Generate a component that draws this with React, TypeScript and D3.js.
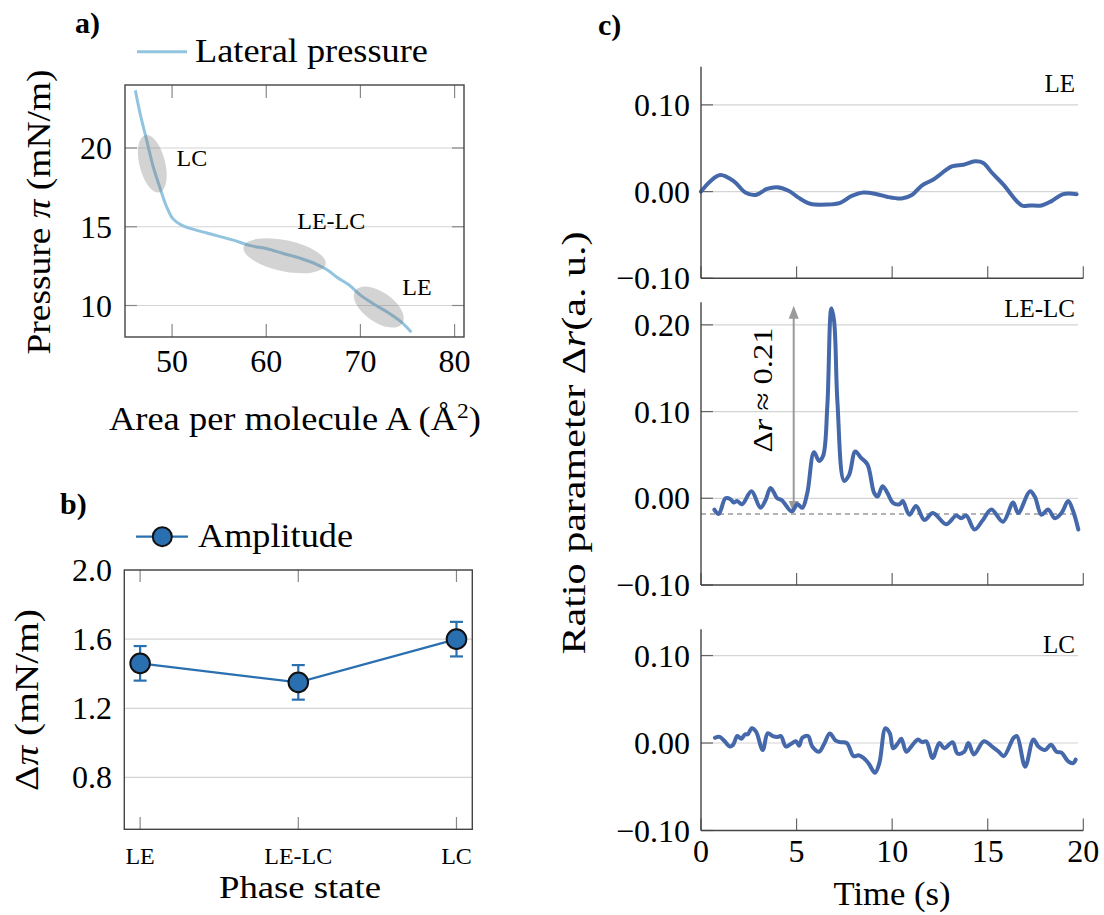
import React from "react";
import * as d3 from "d3";

// ---------- Panel a: isotherm ----------
const areaPerMolecule = [46.1, 46.6, 47.3, 48.0, 48.7, 49.4, 50.1, 51.0, 51.9, 53.7, 56.5, 58.3, 60.1, 61.8, 63.6, 65.4, 66.5, 67.5, 68.8, 70.0, 71.4, 72.8, 74.3, 75.4];
const lateralPressure = [23.66, 22.2, 20.5, 18.8, 17.5, 16.3, 15.5, 15.1, 14.9, 14.6, 14.15, 13.8, 13.6, 13.3, 13.0, 12.6, 12.25, 11.8, 11.3, 10.66, 10.1, 9.6, 8.97, 8.3];
const regionNames = ["LC", "LE-LC", "LE"];
const regionArea = [47.9, 61.95, 71.95];
const regionPressure = [19.0, 13.16, 9.9];
const regionLabelArea = [52.1, 66.9, 76.0];
const regionLabelPressure = [19.4, 15.4, 11.2];
const areaTicks = [50, 60, 70, 80];
const pressureTicks = [10, 15, 20];

// ---------- Panel b: amplitude ----------
const phaseStates = ["LE", "LE-LC", "LC"];
const amplitude = [1.46, 1.35, 1.6];
const amplitudeErr = [0.1, 0.1, 0.1];
const amplitudeTicks = [0.8, 1.2, 1.6, 2.0];

// ---------- Panel c: ratio parameter ----------
const timeLE = [0, 0.49, 1.01, 1.71, 2.32, 2.84, 3.45, 3.97, 4.58, 5.1, 5.71, 6.59, 7.28, 7.89, 8.5, 9.2, 9.72, 10.5, 11.03, 11.55, 12.16, 13.12, 13.73, 14.34, 14.77, 15.21, 15.82, 16.78, 17.21, 17.82, 18.34, 18.95, 19.65];
const ratioLE = [0.0, 0.012, 0.019, 0.012, -0.001, -0.004, 0.003, 0.005, 0.001, -0.007, -0.014, -0.015, -0.013, -0.005, -0.001, -0.003, -0.006, -0.008, -0.004, 0.007, 0.014, 0.029, 0.031, 0.035, 0.033, 0.022, 0.008, -0.016, -0.016, -0.016, -0.011, -0.003, -0.003];

const timeLELC = [0.7, 0.93, 1.28, 1.54, 1.71, 1.89, 2.15, 2.64, 3.11, 3.38, 3.64, 3.99, 4.22, 4.74, 5.04, 5.3, 5.56, 5.91, 6.18, 6.39, 6.61, 6.82, 6.96, 7.14, 7.49, 7.75, 8.07, 8.36, 8.71, 9.06, 9.24, 9.5, 9.76, 10.03, 10.38, 10.55, 10.9, 11.25, 11.69, 12.13, 12.83, 13.35, 13.61, 13.88, 14.31, 14.75, 15.19, 15.8, 16.33, 16.59, 17.21, 17.46, 17.81, 18.16, 18.51, 18.86, 19.21, 19.47, 19.74];
const ratioLELC = [-0.013, -0.018, 0.0, -0.001, -0.005, -0.003, -0.007, 0.008, -0.011, -0.002, 0.012, 0.0, -0.002, -0.015, -0.007, -0.011, 0.006, 0.053, 0.043, 0.049, 0.107, 0.219, 0.205, 0.11, 0.02, 0.027, 0.054, 0.047, 0.039, 0.006, 0.002, 0.014, 0.006, -0.005, -0.007, -0.003, -0.019, -0.009, -0.025, -0.017, -0.03, -0.02, -0.023, -0.02, -0.036, -0.025, -0.013, -0.027, -0.005, -0.017, 0.008, 0.002, -0.019, -0.013, -0.023, -0.017, -0.003, -0.015, -0.036];

const timeLC = [0.73, 0.98, 1.24, 1.5, 1.68, 1.9, 2.11, 2.31, 2.45, 2.66, 2.88, 3.23, 3.49, 3.75, 4.01, 4.18, 4.44, 4.7, 4.96, 5.13, 5.3, 5.6, 5.82, 6.17, 6.42, 6.74, 7.03, 7.29, 7.63, 7.98, 8.24, 8.5, 8.76, 9.1, 9.33, 9.65, 9.88, 10.05, 10.31, 10.48, 10.74, 11.0, 11.35, 11.57, 11.78, 12.12, 12.47, 12.73, 13.16, 13.42, 13.77, 13.99, 14.28, 14.8, 15.23, 15.58, 15.84, 16.36, 16.53, 16.96, 17.39, 17.65, 18.0, 18.31, 18.6, 18.86, 19.21, 19.47, 19.6];
const ratioLC = [0.006, 0.007, 0.002, -0.004, -0.002, 0.008, 0.005, 0.01, 0.01, 0.017, 0.013, -0.008, 0.011, 0.008, 0.007, 0.008, -0.004, -0.001, 0.002, -0.003, 0.006, 0.008, -0.004, -0.01, -0.002, 0.011, 0.003, 0.001, 0.0, -0.015, -0.014, -0.017, -0.023, -0.034, -0.023, 0.017, 0.011, -0.006, 0.0, 0.005, -0.01, -0.004, 0.004, 0.001, 0.002, -0.017, 0.0, -0.006, 0.001, -0.012, -0.01, 0.0, -0.013, 0.002, -0.004, -0.01, -0.015, 0.006, 0.008, -0.027, 0.004, -0.004, -0.008, -0.002, -0.01, -0.011, -0.021, -0.023, -0.019];

const timeTicks = [0, 5, 10, 15, 20];
const ticksSmall = [-0.1, 0.0, 0.1];
const ticksMid = [-0.1, 0.0, 0.1, 0.2];
const lelcBaseline = -0.018;
const lelcPeak = 0.222;
const arrowTime = 4.85;

// ---------- styles ----------
const FONT = "'Liberation Serif', 'Times New Roman', serif";
const TICK_FS = 32;
const LABEL_FS = 34;
const GRID = "#d4d4d4";
const FRAME = "#444";
const TICKC = "#888";
const LINE_C = "#4468aa";
const AMP_C = "#2a70b0";
const ARROW_C = "#9a9a9a";
const ellipseShapes = [
  { rx: 12.9, ry: 29.5, rot: -14 },
  { rx: 42, ry: 15.5, rot: 12 },
  { rx: 28.7, ry: 14.9, rot: 35 },
];

const fmt2 = (v: number) => (v < 0 ? "\u2212" : "") + Math.abs(v).toFixed(2);

function PanelA() {
  const x = d3.scaleLinear().domain([45, 81]).range([125, 464]);
  const y = d3.scaleLinear().domain([8, 24]).range([337, 85]);
  const pts = areaPerMolecule.map((a, i) => [a, lateralPressure[i]] as [number, number]);
  const line = d3.line<[number, number]>().x((d) => x(d[0])).y((d) => y(d[1])).curve(d3.curveCatmullRom);
  return (
    <g>
      <text x={75} y={33} fontSize={30} fontWeight="bold" fontFamily={FONT}>a)</text>
      <line x1={137} x2={187} y1={51.7} y2={51.7} stroke="#92c4df" strokeWidth={3} />
      <text x={195} y={61.7} fontSize={LABEL_FS} fontFamily={FONT} textLength={233} lengthAdjust="spacingAndGlyphs">Lateral pressure</text>
      {pressureTicks.map((t) => (
        <g key={t}>
          <line x1={125} x2={464} y1={y(t)} y2={y(t)} stroke={GRID} strokeWidth={1.2} />
          <line x1={125} x2={137} y1={y(t)} y2={y(t)} stroke={TICKC} strokeWidth={1.2} />
          <line x1={452} x2={464} y1={y(t)} y2={y(t)} stroke={TICKC} strokeWidth={1.2} />
          <text x={112} y={y(t) + 11} textAnchor="end" fontSize={TICK_FS} fontFamily={FONT}>{t}</text>
        </g>
      ))}
      {areaTicks.map((t) => (
        <g key={t}>
          <line x1={x(t)} x2={x(t)} y1={85} y2={98} stroke={TICKC} strokeWidth={1.2} />
          <line x1={x(t)} x2={x(t)} y1={324} y2={337} stroke={TICKC} strokeWidth={1.2} />
          <text x={x(t)} y={372} textAnchor="middle" fontSize={TICK_FS} fontFamily={FONT}>{t}</text>
        </g>
      ))}
      <path d={line(pts) || ""} fill="none" stroke="#92c4df" strokeWidth={3} />
      {regionNames.map((n, i) => (
        <ellipse
          key={n}
          cx={0}
          cy={0}
          rx={ellipseShapes[i].rx}
          ry={ellipseShapes[i].ry}
          transform={`translate(${x(regionArea[i])},${y(regionPressure[i])}) rotate(${ellipseShapes[i].rot})`}
          fill="#777"
          fillOpacity={0.32}
        />
      ))}
      {regionNames.map((n, i) => (
        <text key={n} x={x(regionLabelArea[i])} y={y(regionLabelPressure[i])} dy="0.35em" textAnchor="middle" fontSize={24} fontFamily={FONT}>{n}</text>
      ))}
      <rect x={125} y={85} width={339} height={252} fill="none" stroke={FRAME} strokeWidth={1.4} />
      <text transform="translate(50,212) rotate(-90)" textAnchor="middle" fontSize={LABEL_FS} fontFamily={FONT} textLength={285} lengthAdjust="spacingAndGlyphs">
        Pressure <tspan fontStyle="italic">π</tspan> (mN/m)
      </text>
      <text x={295} y={430} textAnchor="middle" fontSize={LABEL_FS} fontFamily={FONT} textLength={372} lengthAdjust="spacingAndGlyphs">
        Area per molecule A (Å<tspan dy={-12} fontSize={22}>2</tspan><tspan dy={12}>)</tspan>
      </text>
    </g>
  );
}

function PanelB() {
  const x = d3.scaleLinear().domain([-0.1, 2.1]).range([124.3, 472.3]);
  const y = d3.scaleLinear().domain([0.5, 2.0]).range([829.3, 570]);
  const pts = amplitude.map((v, i) => [i, v] as [number, number]);
  const line = d3.line<[number, number]>().x((d) => x(d[0])).y((d) => y(d[1]));
  return (
    <g>
      <text x={60} y={514} fontSize={30} fontWeight="bold" fontFamily={FONT}>b)</text>
      <line x1={136} x2={188} y1={536.7} y2={536.7} stroke={AMP_C} strokeWidth={2.2} />
      <circle cx={162.3} cy={536.7} r={9.5} fill={AMP_C} stroke="#111" strokeWidth={2} />
      <text x={198} y={546.7} fontSize={LABEL_FS} fontFamily={FONT} textLength={155} lengthAdjust="spacingAndGlyphs">Amplitude</text>
      {amplitudeTicks.map((t) => (
        <g key={t}>
          <line x1={124.3} x2={472.3} y1={y(t)} y2={y(t)} stroke={GRID} strokeWidth={1.2} />
          <text x={112} y={y(t) + 11} textAnchor="end" fontSize={TICK_FS} fontFamily={FONT}>{t.toFixed(1)}</text>
        </g>
      ))}
      {phaseStates.map((p, i) => (
        <g key={p}>
          <line x1={x(i)} x2={x(i)} y1={570} y2={582} stroke={TICKC} strokeWidth={1.2} />
          <line x1={x(i)} x2={x(i)} y1={817} y2={829.3} stroke={TICKC} strokeWidth={1.2} />
          <text x={x(i)} y={864} textAnchor="middle" fontSize={24} fontFamily={FONT}>{p}</text>
        </g>
      ))}
      <path d={line(pts) || ""} fill="none" stroke={AMP_C} strokeWidth={2.2} />
      {amplitude.map((v, i) => (
        <g key={i}>
          <line x1={x(i)} x2={x(i)} y1={y(v - amplitudeErr[i])} y2={y(v + amplitudeErr[i])} stroke={AMP_C} strokeWidth={2.2} />
          <line x1={x(i) - 6.5} x2={x(i) + 6.5} y1={y(v - amplitudeErr[i])} y2={y(v - amplitudeErr[i])} stroke={AMP_C} strokeWidth={2.2} />
          <line x1={x(i) - 6.5} x2={x(i) + 6.5} y1={y(v + amplitudeErr[i])} y2={y(v + amplitudeErr[i])} stroke={AMP_C} strokeWidth={2.2} />
          <circle cx={x(i)} cy={y(v)} r={9.8} fill={AMP_C} stroke="#111" strokeWidth={2} />
        </g>
      ))}
      <rect x={124.3} y={570} width={348} height={259.3} fill="none" stroke={FRAME} strokeWidth={1.4} />
      <text transform="translate(38,700) rotate(-90)" textAnchor="middle" fontSize={LABEL_FS} fontFamily={FONT} textLength={182} lengthAdjust="spacingAndGlyphs">
        Δ<tspan fontStyle="italic">π</tspan>  (mN/m)
      </text>
      <text x={300} y={898} textAnchor="middle" fontSize={31} fontFamily={FONT} textLength={162} lengthAdjust="spacingAndGlyphs">Phase state</text>
    </g>
  );
}

type SubProps = {
  times: number[];
  values: number[];
  domain: [number, number];
  range: [number, number];
  ticks: number[];
  name: string;
  nameBaseline: number;
  showTimeLabels?: boolean;
  children?: (x: d3.ScaleLinear<number, number>, y: d3.ScaleLinear<number, number>) => React.ReactNode;
};

function SubPanel({ times, values, domain, range, ticks, name, nameBaseline, showTimeLabels, children }: SubProps) {
  const x = d3.scaleLinear().domain([0, 20]).range([701, 1083.3]);
  const y = d3.scaleLinear().domain(domain).range(range);
  const pts = times.map((t, i) => [t, values[i]] as [number, number]);
  const line = d3.line<[number, number]>().x((d) => x(d[0])).y((d) => y(d[1])).curve(d3.curveCatmullRom);
  const bottom = range[0];
  const top = range[1];
  return (
    <g>
      {ticks.map((t) => (
        <g key={t}>
          {t > domain[0] && <line x1={701} x2={1078} y1={y(t)} y2={y(t)} stroke={GRID} strokeWidth={1.2} />}
          <line x1={701} x2={713} y1={y(t)} y2={y(t)} stroke="#666" strokeWidth={1.2} />
          <text x={690} y={y(t) + 11} textAnchor="end" fontSize={TICK_FS} fontFamily={FONT}>{fmt2(t)}</text>
        </g>
      ))}
      {timeTicks.map((t) => (
        <g key={t}>
          <line x1={x(t)} x2={x(t)} y1={bottom - 12} y2={bottom} stroke="#666" strokeWidth={1.2} />
          {showTimeLabels && (
            <text x={x(t)} y={862} textAnchor="middle" fontSize={TICK_FS} fontFamily={FONT}>{t}</text>
          )}
        </g>
      ))}
      {children && children(x, y)}
      <path d={line(pts) || ""} fill="none" stroke={LINE_C} strokeWidth={4} strokeLinejoin="round" strokeLinecap="round" />
      <line x1={701} x2={701} y1={top} y2={bottom} stroke={FRAME} strokeWidth={1.4} />
      <line x1={701} x2={1083.3} y1={bottom} y2={bottom} stroke={FRAME} strokeWidth={1.4} />
      <text x={1075} y={nameBaseline} textAnchor="end" fontSize={25} fontFamily={FONT}>{name}</text>
    </g>
  );
}

export default function App() {
  return (
    <svg width={1104} height={915} style={{ display: "block", position: "absolute", left: 0, top: 0, background: "#fff" }}>
      <rect x={0} y={0} width={1104} height={915} fill="#fff" />
      <PanelA />
      <PanelB />
      <text x={598} y={35} fontSize={30} fontWeight="bold" fontFamily={FONT}>c)</text>
      <SubPanel times={timeLE} values={ratioLE} domain={[-0.1, 0.144]} range={[278.3, 66.7]} ticks={ticksSmall} name="LE" nameBaseline={91.7} />
      <SubPanel times={timeLELC} values={ratioLELC} domain={[-0.1, 0.226]} range={[585, 302.3]} ticks={ticksMid} name="LE-LC" nameBaseline={316.7}>
        {(x, y) => {
          const ax = x(arrowTime);
          const yb = y(lelcBaseline);
          const yt = y(lelcPeak);
          return (
            <g>
              <line x1={701} x2={1078} y1={yb} y2={yb} stroke={ARROW_C} strokeWidth={1.5} strokeDasharray="5,4" />
              <line x1={ax} x2={ax} y1={yb - 10} y2={yt + 10} stroke={ARROW_C} strokeWidth={2} />
              <path d={`M${ax},${yt} L${ax - 5},${yt + 13} L${ax + 5},${yt + 13} Z`} fill={ARROW_C} />
              <path d={`M${ax},${yb} L${ax - 5},${yb - 13} L${ax + 5},${yb - 13} Z`} fill={ARROW_C} />
              <text transform={`translate(${ax - 32},${y(0.125)}) rotate(-90)`} dy="0.35em" textAnchor="middle" fontSize={28} fontFamily={FONT} textLength={125} lengthAdjust="spacingAndGlyphs">
                Δ<tspan fontStyle="italic">r</tspan> ≈ 0.21
              </text>
            </g>
          );
        }}
      </SubPanel>
      <SubPanel times={timeLC} values={ratioLC} domain={[-0.1, 0.13]} range={[830.5, 629.3]} ticks={ticksSmall} name="LC" nameBaseline={653.3} showTimeLabels />
      <text transform="translate(585,443) rotate(-90)" textAnchor="middle" fontSize={LABEL_FS} fontFamily={FONT} textLength={423} lengthAdjust="spacingAndGlyphs">
        Ratio parameter Δ<tspan fontStyle="italic">r</tspan>(a. u.)
      </text>
      <text x={892} y={905} textAnchor="middle" fontSize={LABEL_FS} fontFamily={FONT} textLength={117} lengthAdjust="spacingAndGlyphs">Time (s)</text>
    </svg>
  );
}
